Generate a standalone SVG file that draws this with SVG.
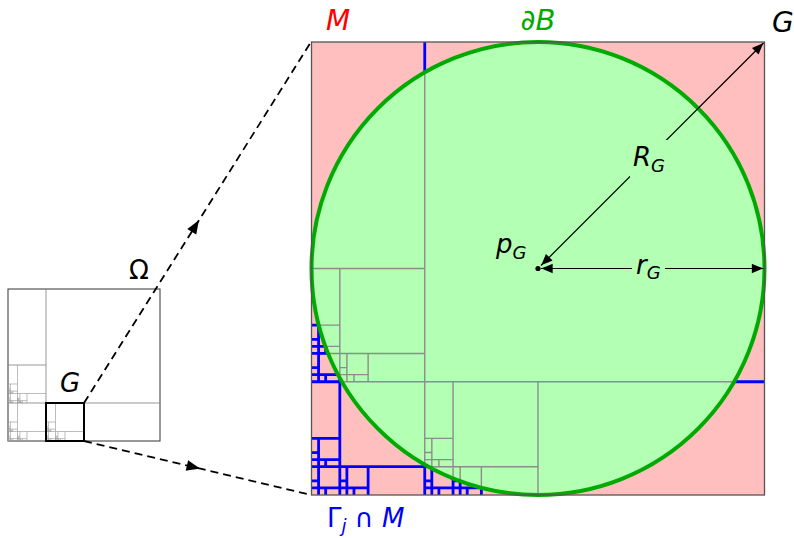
<svg xmlns="http://www.w3.org/2000/svg" xmlns:xlink="http://www.w3.org/1999/xlink" width="794" height="538" viewBox="0 0 794 538">
<style>
  .lbl { font-family: "DejaVu Sans", "Liberation Sans", sans-serif; font-size: 26px; }
  .it { font-style: italic; }
  .sub { font-size: 18px; font-style: italic; }
  .gray { stroke: #8c8c8c; stroke-width: 1.4; fill: none; }
  .grayS { stroke: #a0a0a0; stroke-width: 0.7; fill: none; }
  .blue { stroke: #0000ff; stroke-width: 2.8; fill: none; stroke-linecap: square; }
  .dash { stroke: #000; stroke-width: 1.8; fill: none; stroke-dasharray: 8 5; }
  .thin { stroke: #000; stroke-width: 1.2; fill: none; }
</style>
<defs>
  <path id="q64" vector-effect="non-scaling-stroke" d="M16,0V64 M0,48H64 M0,32H16 M32,48V64
    M4,48V64 M0,60H16 M0,56H4 M8,60V64
    M4,32V48 M0,44H16 M0,40H4 M8,44V48
    M20,48V64 M16,60H32 M16,56H20 M24,60V64
    M1,60V64 M0,63H4 M0,62H1 M2,63V64
    M1,56V60 M0,59H4 M0,58H1 M2,59V60
    M5,60V64 M4,63H8 M4,62H5 M6,63V64
    M1,44V48 M0,47H4 M0,46H1 M2,47V48
    M1,40V44 M0,43H4 M0,42H1 M2,43V44
    M5,44V48 M4,47H8 M4,46H5 M6,47V48
    M17,60V64 M16,63H20 M16,62H17 M18,63V64
    M17,56V60 M16,59H20 M16,58H17 M18,59V60
    M21,60V64 M20,63H24 M20,62H21 M22,63V64"/>
  <mask id="outside" maskUnits="userSpaceOnUse" x="0" y="0" width="794" height="538">
    <rect x="311.5" y="42" width="453" height="453" fill="#fff"/>
    <circle cx="538" cy="268.5" r="226.5" fill="#000"/>
  </mask>
  <marker id="ah" markerUnits="userSpaceOnUse" markerWidth="14" markerHeight="12" viewBox="-11 -5 12 10" refX="0" refY="0" orient="auto-start-reverse" overflow="visible">
    <path d="M0,0 C-2.5,-0.8 -6,-2.4 -10,-4 L-10,4 C-6,2.4 -2.5,0.8 0,0 Z" fill="#000"/>
  </marker>
  <marker id="ahd" markerUnits="userSpaceOnUse" markerWidth="16" markerHeight="14" viewBox="-14 -6 15 12" refX="0" refY="0" orient="auto" overflow="visible">
    <path d="M0,0 C-3,-1 -8,-3 -13,-5 L-13,5 C-8,3 -3,1 0,0 Z" fill="#000"/>
  </marker>
</defs>

<!-- Omega (overview) -->
<g id="omega">
  <rect x="8" y="289" width="152" height="152" fill="#fff" stroke="#333" stroke-width="1"/>
  <path class="gray" style="stroke-width:0.9" d="M46,289V441 M8,403H160 M8,365H46 M84,403V441"/>
  <use xlink:href="#q64" class="grayS" transform="translate(8,403) scale(0.59375)"/>
  <use xlink:href="#q64" class="grayS" transform="translate(8,365) scale(0.59375)"/>
  <use xlink:href="#q64" class="grayS" transform="translate(46,403) scale(0.59375)"/>
  <text class="lbl" x="129" y="279">Ω</text>
</g>

<g id="g-small">
  <rect x="46" y="403" width="38" height="38" fill="none" stroke="#000" stroke-width="2"/>
  <text class="lbl it" x="60" y="392" style="font-size:26px">G</text>
</g>

<!-- Zoomed cell G -->
<g id="g-big">
  <rect x="311.5" y="42" width="453" height="453" fill="#ffbfbf"/>
  <circle cx="538" cy="268.5" r="226.5" fill="#b3ffb3"/>
  <use xlink:href="#q64" class="gray" transform="translate(311.5,42) scale(7.078125)"/>
  <g mask="url(#outside)">
    <use xlink:href="#q64" class="blue" transform="translate(311.5,42) scale(7.078125)"/>
  </g>
  <circle cx="538" cy="268.5" r="226.5" fill="none" stroke="#00aa00" stroke-width="4"/>
  <rect x="311.5" y="42" width="453" height="453" fill="none" stroke="#555" stroke-width="1.3"/>
</g>

<g id="labels">
  <text class="lbl it" x="326" y="30" fill="#ff0000" style="font-size:28px">M</text>
  <text class="lbl it" x="538" y="30" text-anchor="middle" fill="#00aa00" style="font-size:29px">∂B</text>
  <text class="lbl it" x="772" y="32" style="font-size:28px">G</text>
  <text class="lbl" x="327" y="527" fill="#0000ff" style="font-size:26px">Γ<tspan class="sub" dy="5">j</tspan><tspan dy="-5"> ∩ </tspan><tspan class="it">M</tspan></text>
</g>

<g id="connectors">
  <path class="dash" d="M84,403 L199.1,220 L311,42" marker-mid="url(#ahd)"/>
  <path class="dash" d="M84,441 L200.4,468.7 L311,495" marker-mid="url(#ahd)"/>
  <path class="thin" d="M541,265.5 L763.5,43" marker-start="url(#ah)" marker-end="url(#ah)"/>
  <path class="thin" d="M541,268.5 L763.5,268.5" marker-start="url(#ah)" marker-end="url(#ah)"/>
</g>

<g id="center">
  <circle cx="538" cy="268.5" r="2.6" fill="#000"/>
  <text class="lbl it" x="496" y="253">p<tspan class="sub" dy="6">G</tspan></text>
</g>
<g id="label-R">
  <rect x="630" y="140" width="38" height="37" fill="#b3ffb3"/>
  <text class="lbl it" x="633" y="166">R<tspan class="sub" dy="6">G</tspan></text>
</g>
<g id="label-r">
  <rect x="632" y="257" width="33" height="24" fill="#b3ffb3"/>
  <text class="lbl it" x="636" y="274">r<tspan class="sub" dy="5">G</tspan></text>
</g>
</svg>
